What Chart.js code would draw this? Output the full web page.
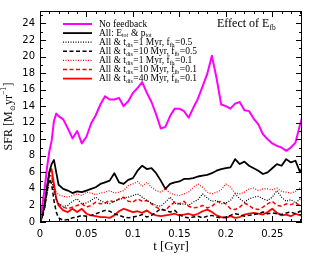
<!DOCTYPE html>
<html>
<head>
<meta charset="utf-8">
<script src="https://cdn.jsdelivr.net/npm/chart.js@4/dist/chart.umd.min.js"></script>
<style>
  html, body { margin: 0; padding: 0; background: #fff; }
</style>
</head>
<body>
<canvas id="myChart" width="319" height="261"></canvas>
<script>
// time axis [Gyr]
const times = [
  0, 0.0025, 0.005, 0.0075, 0.01, 0.0125, 0.015, 0.0175, 0.02,
  0.025, 0.03, 0.035, 0.04, 0.045, 0.05, 0.055, 0.06, 0.065, 0.07,
  0.075, 0.08, 0.085, 0.09, 0.095, 0.1, 0.105, 0.11, 0.115, 0.12,
  0.125, 0.13, 0.135, 0.14, 0.145, 0.15, 0.155, 0.16, 0.165, 0.17,
  0.175, 0.18, 0.185, 0.19, 0.195, 0.2, 0.205, 0.21, 0.215, 0.22,
  0.225, 0.23, 0.235, 0.24, 0.245, 0.25, 0.255, 0.26, 0.265, 0.27,
  0.275, 0.28, 0.282
];

// SFR [Msun/yr]
const noFeedback = [
  0, 2, 4, 6.5, 8.5, 9.8, 12.2, 13.1, 12.8,
  12.4, 11.3, 10.1, 11.0, 9.5, 10.3, 11.9, 12.9, 14.2, 15.2,
  14.8, 14.8, 15.0, 14.0, 14.6, 15.6, 16.2, 16.9, 15.6, 14.5,
  13.0, 11.3, 11.5, 12.8, 13.7, 13.7, 13.4, 12.6, 13.8, 14.9,
  16.4, 17.9, 20.1, 17.4, 14.2, 14.0, 13.7, 14.3, 14.5, 13.5,
  13.4, 12.5, 11.8, 10.6, 10.0, 9.5, 9.2, 9.0, 8.6, 9.0,
  9.6, 11.8, 12.6
];
const allTot = [
  0, 0.8, 2.2, 4.2, 6.0, 7.0, 7.5, 6.0, 4.5,
  4.0, 3.8, 3.5, 3.7, 3.6, 3.8, 4.0, 4.2, 4.6, 4.8,
  5.0, 5.9, 4.8, 4.6, 5.1, 5.3, 6.2, 6.8, 6.4, 6.5,
  5.9, 5.0, 4.0, 4.6, 4.8, 4.9, 5.2, 5.2, 5.3, 5.5,
  5.6, 5.7, 5.9, 6.2, 6.4, 6.5, 6.6, 7.6, 7.0, 7.3,
  6.8, 6.5, 6.2, 5.8, 6.0, 6.5, 7.0, 6.8, 7.6, 7.2,
  7.4, 6.0, 6.5
];
const dis1f05 = [
  0, 0.6, 1.8, 3.4, 4.8, 5.0, 3.8, 2.8, 2.2,
  1.9, 2.0, 2.5, 2.8, 2.2, 2.3, 2.6, 3.0, 2.6, 2.3,
  2.2, 2.5, 2.7, 2.9, 3.0, 3.2, 3.4, 3.0, 2.6, 2.3,
  2.0, 1.9, 2.4, 3.0, 2.3, 2.1, 2.2, 2.0, 2.4, 2.7,
  3.4, 2.9, 2.5, 2.6, 2.2, 2.3, 2.6, 3.4, 2.8, 2.4,
  2.8, 3.0, 3.1, 2.8, 2.6, 3.0, 3.8, 3.0, 2.5, 2.7,
  2.3, 2.8, 2.6
];
const dis10f05 = [
  0, 0.6, 1.8, 3.6, 5.2, 4.6, 2.6, 1.2, 0.5,
  0.2, 0.3, 0.5, 0.6, 0.8, 0.7, 0.8, 1.0, 1.2, 1.4,
  1.3, 1.0, 0.8, 0.6, 0.5, 0.6, 0.7, 0.9, 0.6, 0.8,
  1.2, 1.6, 1.4, 1.2, 1.4, 0.9, 0.6, 0.5, 0.6, 0.7,
  0.5, 0.7, 0.8, 0.6, 0.5, 0.6, 0.8, 1.0, 0.9, 0.7,
  0.8, 0.9, 1.0, 1.2, 1.0, 1.1, 1.0, 0.9, 1.1, 1.2,
  1.0, 1.3, 1.2
];
const dis1f01 = [
  0, 0.6, 1.8, 3.6, 5.4, 5.6, 4.5, 3.6, 3.3,
  3.1, 3.0, 3.2, 3.4, 3.2, 3.6, 3.5, 3.3, 3.5, 3.6,
  3.8, 3.5, 3.6, 3.8, 4.4, 4.6, 4.9, 4.3, 4.8, 4.2,
  3.8, 3.6, 4.0, 3.5, 3.3, 3.2, 3.4, 3.6, 4.2, 4.6,
  4.2, 3.6, 3.4, 3.6, 3.9, 4.6, 4.2, 3.5, 3.4, 3.6,
  4.0, 4.1, 3.8, 4.0, 4.0, 3.9, 4.1, 3.7, 3.6, 3.5,
  3.7, 4.1, 4.0
];
const dis10f01 = [
  0, 0.6, 1.8, 3.8, 5.6, 5.6, 4.0, 2.8, 2.2,
  1.8, 1.6, 1.8, 2.0, 2.2, 1.8, 2.0, 2.4, 2.2, 2.3,
  2.6, 2.4, 2.8, 3.0, 2.5, 2.4, 2.8, 2.5, 2.6, 2.2,
  1.8, 1.5, 1.4, 2.0, 2.4, 2.2, 2.5, 1.9, 1.7, 1.8,
  2.0, 1.7, 1.9, 2.4, 2.5, 2.2, 1.6, 1.5, 1.8, 2.3,
  2.0, 1.6, 1.5, 1.8, 2.2, 2.5, 2.0, 1.9, 2.2, 2.1,
  2.3, 2.0, 2.2
];
const dis40f01 = [
  0, 0.8, 2.2, 4.0, 6.0, 6.4, 4.6, 2.8, 2.0,
  1.4, 1.2, 1.6, 1.2, 1.6, 1.0, 0.8, 0.7, 0.6, 0.6,
  0.5, 0.8, 1.3, 1.6, 1.4, 1.2, 1.3, 1.1, 1.4, 1.0,
  0.8, 0.7, 0.8, 0.9, 1.0, 0.8, 0.9, 1.0, 0.8, 1.0,
  1.3, 1.5, 1.2, 0.8, 0.6, 0.5, 0.7, 0.5, 0.6, 0.9,
  1.0, 1.1, 1.0, 0.9, 1.2, 1.6, 1.1, 0.8, 0.9, 0.7,
  1.0, 0.8, 0.9
];

const xTickValues = [0, 0.05, 0.1, 0.15, 0.2, 0.25];
const yTickValues = [0, 2, 4, 6, 8, 10, 12, 14, 16, 18, 20, 22, 24];

// legend text pieces: [text, 'sub'|'sup'|undefined]
const legendLabels = [
  [['No feedback']],
  [['All: E'], ['tot', 'sub'], [' & p'], ['tot', 'sub']],
  [['All & t'], ['dis', 'sub'], ['=1 Myr, f'], ['fb', 'sub'], ['=0.5']],
  [['All & t'], ['dis', 'sub'], ['=10 Myr, f'], ['fb', 'sub'], ['=0.5']],
  [['All & t'], ['dis', 'sub'], ['=1 Myr, f'], ['fb', 'sub'], ['=0.1']],
  [['All & t'], ['dis', 'sub'], ['=10 Myr, f'], ['fb', 'sub'], ['=0.1']],
  [['All & t'], ['dis', 'sub'], ['=40 Myr, f'], ['fb', 'sub'], ['=0.1']]
];
const panelLabel = [['Effect of E'], ['fb', 'sub']];
const xTitle = [['t [Gyr]']];
const yTitle = [['SFR [M'], ['\u2299', 'sub'], ['yr'], ['\u22121', 'sup'], [']']];

function pts(vals) {
  return vals.map((v, i) => ({ x: times[i], y: v }));
}

function drawParts(ctx, parts, x, y, size, family, align) {
  let total = 0;
  const widths = parts.map(p => {
    const s = p[1] ? size * 0.62 : size;
    ctx.font = s + 'px ' + family;
    return ctx.measureText(p[0]).width + (p[1] ? 0.5 : 0);
  });
  widths.forEach(w => total += w);
  let cx = align === 'center' ? x - total / 2 : x;
  parts.forEach((p, i) => {
    const s = p[1] ? size * 0.62 : size;
    ctx.font = s + 'px ' + family;
    let dy = 0;
    if (p[1] === 'sub') dy = size * 0.3;
    if (p[1] === 'sup') dy = -size * 0.4;
    ctx.fillText(p[0], cx, y + dy);
    cx += widths[i];
  });
}

const frame = {
  id: 'frame',
  afterDatasetsDraw(chart) {
    const ctx = chart.ctx;
    const a = chart.chartArea;
    const xs = chart.scales.x, ys = chart.scales.y;
    ctx.save();
    ctx.strokeStyle = '#000';
    ctx.lineWidth = 1;
    ctx.strokeRect(a.left + 0.5, a.top + 0.5, a.right - a.left - 1, a.bottom - a.top - 1);
    ctx.beginPath();
    for (let i = 0; i <= 28; i++) {
      const px = Math.round(xs.getPixelForValue(i / 100)) + 0.5;
      const len = i % 5 === 0 ? 6 : 3;
      ctx.moveTo(px, a.bottom); ctx.lineTo(px, a.bottom - len);
      ctx.moveTo(px, a.top); ctx.lineTo(px, a.top + len);
    }
    for (let i = 0; i <= 25; i++) {
      const py = Math.round(ys.getPixelForValue(i)) + 0.5;
      const len = i % 2 === 0 ? 6 : 3;
      ctx.moveTo(a.left, py); ctx.lineTo(a.left + len, py);
      ctx.moveTo(a.right, py); ctx.lineTo(a.right - len, py);
    }
    ctx.stroke();

    // legend
    ctx.fillStyle = '#000';
    ctx.textBaseline = 'middle';
    chart.data.datasets.forEach((ds, i) => {
      const y = 24 + i * 9.1;
      ctx.strokeStyle = ds.borderColor;
      ctx.lineWidth = ds.borderWidth;
      ctx.setLineDash(ds.borderDash || []);
      ctx.beginPath();
      ctx.moveTo(63, y); ctx.lineTo(92, y);
      ctx.stroke();
      ctx.setLineDash([]);
      drawParts(ctx, legendLabels[i], 99, y, 9.5, '"Liberation Serif"');
    });
    drawParts(ctx, panelLabel, 217, 24, 12, '"Liberation Serif"');

    // axis titles
    drawParts(ctx, xTitle, (a.left + a.right) / 2, 247, 13, '"Liberation Serif"', 'center');
    ctx.translate(9, (a.top + a.bottom) / 2);
    ctx.rotate(-Math.PI / 2);
    drawParts(ctx, yTitle, 0, 0, 12, '"Liberation Serif"', 'center');
    ctx.restore();
  }
};

const data = {
  datasets: [
    { label: 'No feedback', data: pts(noFeedback), borderColor: '#ff00ff', borderWidth: 2 },
    { label: 'All: E_tot & p_tot', data: pts(allTot), borderColor: '#000000', borderWidth: 1.8 },
    { label: 'All & t_dis=1 Myr, f_fb=0.5', data: pts(dis1f05), borderColor: '#000000', borderWidth: 1.2, borderDash: [1, 1.5] },
    { label: 'All & t_dis=10 Myr, f_fb=0.5', data: pts(dis10f05), borderColor: '#000000', borderWidth: 1.5, borderDash: [4, 2.5] },
    { label: 'All & t_dis=1 Myr, f_fb=0.1', data: pts(dis1f01), borderColor: '#ff0000', borderWidth: 1.2, borderDash: [1, 1.5] },
    { label: 'All & t_dis=10 Myr, f_fb=0.1', data: pts(dis10f01), borderColor: '#ff0000', borderWidth: 1.5, borderDash: [4, 2.5] },
    { label: 'All & t_dis=40 Myr, f_fb=0.1', data: pts(dis40f01), borderColor: '#ff0000', borderWidth: 1.8 }
  ]
};

const config = {
  type: 'line',
  data: data,
  options: {
    responsive: false,
    animation: false,
    elements: { point: { radius: 0 }, line: { tension: 0, borderJoinStyle: 'round' } },
    layout: { padding: { left: 0, right: 17, top: 9, bottom: 0 } },
    plugins: { legend: { display: false }, tooltip: { enabled: false } },
    scales: {
      x: {
        type: 'linear', min: 0, max: 0.282,
        grid: { display: false, drawTicks: false }, border: { display: false },
        afterBuildTicks: s => { s.ticks = xTickValues.map(v => ({ value: v })); },
        afterFit: s => { s.height = 39; },
        ticks: { padding: 6, color: '#000', maxRotation: 0, font: { family: 'DejaVu Sans', size: 10 }, callback: v => String(v) }
      },
      y: {
        type: 'linear', min: 0, max: 25.5,
        grid: { display: false, drawTicks: false }, border: { display: false },
        afterBuildTicks: s => { s.ticks = yTickValues.map(v => ({ value: v })); },
        afterFit: s => { s.width = 40; },
        ticks: { padding: 5, color: '#000', font: { family: 'DejaVu Sans', size: 10 }, callback: v => String(v) }
      }
    }
  },
  plugins: [frame]
};

const myChart = new Chart(document.getElementById('myChart'), config);
</script>
</body>
</html>
